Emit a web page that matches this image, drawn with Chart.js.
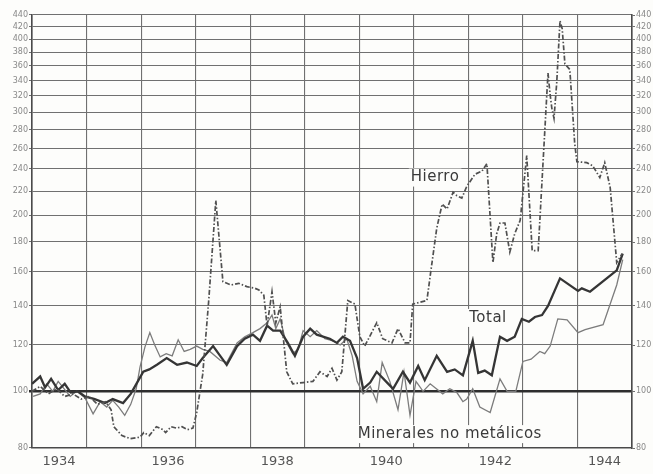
<!DOCTYPE html>
<html>
<head>
<meta charset="utf-8">
<script src="https://cdn.jsdelivr.net/npm/chart.js@4.4.0/dist/chart.umd.min.js"></script>
<style>
  body { margin: 0; background: #fdfdfb; }
  #wrap { width: 653px; height: 474px; }
</style>
</head>
<body>
<div id="wrap"><canvas id="grafico" width="653" height="474"></canvas></div>
<script>
// ticks del eje vertical (escala logaritmica) y años rotulados
var yTicks = [80, 100, 120, 140, 160, 180, 200, 220, 240, 260, 280, 300, 320, 340, 360, 380, 400, 420, 440];
var yearLabels = [1934, 1936, 1938, 1940, 1942, 1944];

var hierroYears = [1934.00, 1934.15, 1934.30, 1934.45, 1934.60, 1934.75, 1934.90, 1935.05, 1935.20, 1935.35,
  1935.45, 1935.50, 1935.65, 1935.80, 1935.98, 1936.05, 1936.15, 1936.28, 1936.40, 1936.45,
  1936.55, 1936.65, 1936.75, 1936.85, 1936.95, 1937.02, 1937.13, 1937.24, 1937.37, 1937.50,
  1937.65, 1937.79, 1937.94, 1938.09, 1938.16, 1938.25, 1938.31, 1938.40, 1938.47, 1938.55,
  1938.67, 1938.78, 1938.97, 1939.15, 1939.28, 1939.41, 1939.50, 1939.59, 1939.68, 1939.79,
  1939.92, 1940.01, 1940.10, 1940.32, 1940.43, 1940.60, 1940.71, 1940.84, 1940.93, 1940.98,
  1941.24, 1941.31, 1941.42, 1941.52, 1941.61, 1941.72, 1941.79, 1941.88, 1941.97, 1942.12,
  1942.25, 1942.34, 1942.45, 1942.52, 1942.58, 1942.67, 1942.76, 1942.85, 1942.95, 1943.07,
  1943.17, 1943.28, 1943.37, 1943.46, 1943.50, 1943.53, 1943.57, 1943.62, 1943.68, 1943.72,
  1943.77, 1943.86, 1943.95, 1943.99, 1944.17, 1944.28, 1944.41, 1944.50, 1944.60, 1944.72, 1944.82];
var hierroValues = [100, 102, 99, 101, 98, 99, 97, 98, 95, 96,
  93, 87, 84, 83, 83.5, 85, 84, 87, 86, 85,
  87, 86.5, 87, 86, 86.5, 92, 107, 143, 212, 154,
  152, 153, 151, 150, 149, 146, 129.5, 148, 131, 139.5,
  108, 103, 103.5, 104, 108, 106, 109.5, 104.5, 108, 143,
  141, 124, 119.5, 131, 123, 121, 128, 121, 121, 141,
  143, 160, 190, 209, 205, 219, 216, 214, 224, 235,
  238, 245, 166, 186, 194, 194, 173, 186, 196, 253,
  174, 174, 247, 350, 321, 305, 293, 337, 430, 417,
  363, 355, 265, 247, 246, 243, 232, 246, 223, 166, 172];

var totalYears = [1934.00, 1934.05, 1934.15, 1934.24, 1934.35, 1934.48, 1934.60, 1934.71, 1934.84, 1934.97,
  1935.15, 1935.34, 1935.48, 1935.67, 1935.81, 1935.94, 1936.04, 1936.15, 1936.29, 1936.47,
  1936.66, 1936.84, 1937.02, 1937.13, 1937.32, 1937.45, 1937.57, 1937.76, 1937.90, 1938.05,
  1938.18, 1938.31, 1938.42, 1938.55, 1938.69, 1938.82, 1938.97, 1939.10, 1939.22, 1939.46,
  1939.59, 1939.70, 1939.83, 1939.96, 1940.07, 1940.20, 1940.32, 1940.51, 1940.62, 1940.80,
  1940.93, 1941.08, 1941.20, 1941.42, 1941.61, 1941.75, 1941.90, 1942.08, 1942.18, 1942.30,
  1942.43, 1942.58, 1942.71, 1942.85, 1942.98, 1943.11, 1943.22, 1943.35, 1943.46, 1943.68,
  1944.01, 1944.08, 1944.23, 1944.72, 1944.83];
var totalValues = [103, 104, 106, 101.5, 105, 100.5, 103, 99.5, 100, 98,
  97, 95.5, 97, 95.5, 99, 104, 108, 109, 111, 114,
  111, 112, 110.5, 114, 119.5, 115, 111, 119.5, 123, 125,
  122, 129.5, 127, 127, 121, 115, 124, 128, 125, 123,
  121, 124, 122, 114, 101, 103.5, 108, 103.5, 101, 108,
  103.5, 110.5, 104.5, 115, 108, 109, 106.5, 122, 107.5, 108.5,
  106.5, 124, 122, 124, 133, 131.5, 134, 135, 140, 156,
  148.5, 150, 148, 161, 172];

var mineralYears = [1934.02, 1934.15, 1934.27, 1934.38, 1934.48, 1934.59, 1934.70, 1934.82, 1934.97, 1935.12,
  1935.25, 1935.37, 1935.48, 1935.59, 1935.70, 1935.81, 1935.91, 1935.98, 1936.07, 1936.16,
  1936.25, 1936.35, 1936.46, 1936.57, 1936.68, 1936.79, 1936.90, 1937.02, 1937.13, 1937.26,
  1937.45, 1937.57, 1937.76, 1937.90, 1938.05, 1938.18, 1938.31, 1938.40, 1938.47, 1938.55,
  1938.65, 1938.78, 1938.88, 1938.97, 1939.10, 1939.22, 1939.37, 1939.52, 1939.65, 1939.77,
  1939.87, 1939.96, 1940.07, 1940.20, 1940.32, 1940.42, 1940.56, 1940.71, 1940.82, 1940.93,
  1941.04, 1941.17, 1941.30, 1941.53, 1941.66, 1941.79, 1941.90, 1941.97, 1942.08, 1942.21,
  1942.40, 1942.58, 1942.71, 1942.87, 1943.00, 1943.15, 1943.31, 1943.40, 1943.50, 1943.64,
  1943.81, 1944.01, 1944.14, 1944.47, 1944.72, 1944.83];
var mineralValues = [98, 99, 103, 100, 104, 101, 98, 100, 97.5, 91.5,
  96, 94, 96.5, 94, 91, 95, 101, 110, 119, 126,
  120, 114.5, 116, 115, 122.5, 117, 118, 119.5, 118, 117,
  113, 112, 121, 124, 126, 128, 131, 135, 128, 133,
  122, 116, 118, 127, 124, 127, 123, 122, 120, 123,
  115, 104, 99, 102, 96, 112, 104, 93, 108, 91,
  104, 100, 103, 99, 101, 99.5, 96, 97, 101, 94,
  92, 105, 100, 100, 112.5, 113.5, 117, 116, 119.5, 133,
  132.5, 126, 127.5, 130, 152, 168];

// rotulos de las series, anclados en coordenadas de datos
var notes = [
  { text: 'Hierro', x: 1941.39, y: 232 },
  { text: 'Total', x: 1942.36, y: 133.5 },
  { text: 'Minerales no metálicos', x: 1941.66, y: 84.5 }
];

function pairs(xs, ys) {
  return xs.map(function (x, i) { return { x: x, y: ys[i] }; });
}

var notas = {
  id: 'notas',
  beforeDatasetsDraw: function (chart) {
    var ctx = chart.ctx, sx = chart.scales.x, sy = chart.scales.y;
    ctx.save();
    ctx.font = '15px "DejaVu Sans"';
    ctx.letterSpacing = '0.5px';
    ctx.textAlign = 'center';
    ctx.textBaseline = 'middle';
    notes.forEach(function (n) {
      var px = sx.getPixelForValue(n.x), py = sy.getPixelForValue(n.y);
      var w = ctx.measureText(n.text).width;
      ctx.fillStyle = '#fdfdfb';
      ctx.fillRect(px - w / 2 - 2, py - 9, w + 4, 18);
      ctx.fillStyle = '#3a3a3a';
      ctx.fillText(n.text, px, py);
    });
    ctx.restore();
  }
};

function logTicks(axis) {
  axis.ticks = yTicks.map(function (v) { return { value: v }; });
}

var gridColor = function (c) { return c.tick && c.tick.value === 100 ? '#2e2e2e' : '#707070'; };
var gridWidth = function (c) { return c.tick && c.tick.value === 100 ? 2.4 : 1.1; };

new Chart(document.getElementById('grafico'), {
  type: 'line',
  data: {
    datasets: [{
      label: 'Hierro',
      data: pairs(hierroYears, hierroValues),
      borderColor: '#505050',
      borderWidth: 1.7,
      borderDash: [5, 2, 1.5, 2],
      pointRadius: 0,
      tension: 0
    }, {
      label: 'Total',
      data: pairs(totalYears, totalValues),
      borderColor: '#353535',
      borderWidth: 2.3,
      pointRadius: 0,
      tension: 0
    }, {
      label: 'Minerales no metálicos',
      data: pairs(mineralYears, mineralValues),
      borderColor: '#7c7c7c',
      borderWidth: 1.3,
      pointRadius: 0,
      tension: 0
    }]
  },
  options: {
    responsive: false,
    animation: false,
    layout: { padding: { top: 15, left: 0, right: 0, bottom: 0 } },
    plugins: { legend: { display: false }, tooltip: { enabled: false } },
    scales: {
      x: {
        type: 'linear',
        min: 1934,
        max: 1945,
        afterFit: function (ax) { ax.height = 26; },
        ticks: {
          stepSize: 1,
          autoSkip: false,
          maxRotation: 0,
          labelOffset: 27,
          padding: 6,
          color: '#555',
          font: { family: 'DejaVu Sans', size: 13 },
          callback: function (v) { return yearLabels.indexOf(v) >= 0 ? String(v) : ''; }
        },
        grid: { color: '#707070', lineWidth: 1.1, drawTicks: false },
        border: { color: '#4a4a4a', width: 1.6 }
      },
      y: {
        type: 'logarithmic',
        position: 'left',
        min: 80,
        max: 440,
        afterBuildTicks: logTicks,
        afterFit: function (ax) { ax.width = 32; },
        ticks: {
          autoSkip: false,
          padding: 1,
          color: '#888',
          font: { family: 'DejaVu Sans', size: 8 },
          callback: function (v) { return String(v); }
        },
        grid: { color: gridColor, lineWidth: gridWidth, tickLength: 3 },
        border: { color: '#4a4a4a', width: 1.6 }
      },
      y2: {
        type: 'logarithmic',
        position: 'right',
        min: 80,
        max: 440,
        afterBuildTicks: logTicks,
        afterFit: function (ax) { ax.width = 21; },
        ticks: {
          autoSkip: false,
          padding: 1,
          color: '#888',
          font: { family: 'DejaVu Sans', size: 8 },
          callback: function (v) { return String(v); }
        },
        grid: { drawOnChartArea: false, color: '#707070', tickLength: 3 },
        border: { color: '#4a4a4a', width: 1.6 }
      }
    }
  },
  plugins: [notas]
});
</script>
</body>
</html>
